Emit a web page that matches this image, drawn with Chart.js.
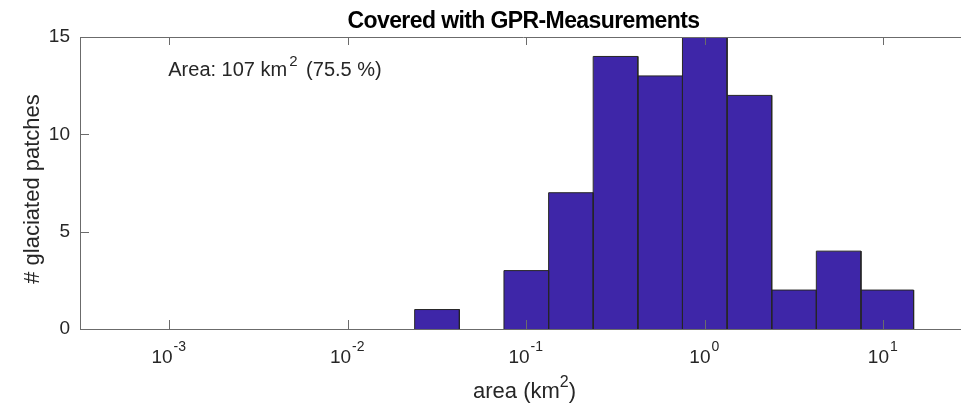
<!DOCTYPE html>
<html>
<head>
<meta charset="utf-8">
<script src="https://cdn.jsdelivr.net/npm/chart.js@4/dist/chart.umd.min.js"></script>
<style>
  html, body { margin: 0; padding: 0; background: #fff; overflow: hidden; }
  canvas { display: block; }
</style>
</head>
<body>
<canvas id="chart" width="967" height="407"></canvas>
<script>
// histogram bins (km²), log-spaced, last edge is the max patch
const binEdges = [0.0237, 0.0422, 0.0750, 0.1334, 0.2371, 0.4217, 0.7499, 1.3335, 2.3714, 4.2170, 7.4989, 14.79]
const patchCounts = [1, 0, 3, 7, 14, 13, 15, 12, 2, 4, 2]
const xTickExponents = [-3, -2, -1, 0, 1]
const yTicks = [0, 5, 10, 15]

const FONT = '"Liberation Sans", Arial, Helvetica, sans-serif'
const TEXT = '#262626'
const AXIS = '#6b6b6b'
const BAR_FILL = 'rgb(62, 38, 168)'
const BAR_EDGE = '#262626'

// one filled outline per bin, built from the edges and counts
const barSets = []
patchCounts.forEach((count, i) => {
  if (count === 0) return
  const l = binEdges[i]
  const r = binEdges[i + 1]
  barSets.push({
    data: [{ x: l, y: 0 }, { x: l, y: count }, { x: r, y: count }, { x: r, y: 0 }],
    backgroundColor: BAR_FILL,
    borderColor: BAR_EDGE,
    borderWidth: 1,
    fill: 'origin',
    pointRadius: 0,
    tension: 0
  })
})

// "10" with a raised exponent, centred on x
function powerLabel(ctx, x, baseline, exp, size) {
  const supSize = Math.round(size * 0.74)
  ctx.font = `${size}px ${FONT}`
  const wBase = ctx.measureText('10').width
  ctx.font = `${supSize}px ${FONT}`
  const wSup = ctx.measureText(String(exp)).width
  const start = x - (wBase + wSup) / 2 - 1
  ctx.textAlign = 'left'
  ctx.font = `${size}px ${FONT}`
  ctx.fillText('10', start, baseline)
  ctx.font = `${supSize}px ${FONT}`
  ctx.fillText(String(exp), start + wBase + 1, baseline - 12)
}

const decorations = {
  id: 'decorations',
  afterDraw(chart) {
    const ctx = chart.ctx
    const area = chart.chartArea
    const xs = chart.scales.x
    const ys = chart.scales.y
    ctx.save()

    // top box line + inward ticks
    ctx.strokeStyle = AXIS
    ctx.lineWidth = 1
    ctx.beginPath()
    ctx.moveTo(area.left, area.top + 0.5)
    ctx.lineTo(area.right, area.top + 0.5)
    xTickExponents.forEach(e => {
      const px = Math.round(xs.getPixelForValue(10 ** e)) + 0.5
      ctx.moveTo(px, area.bottom)
      ctx.lineTo(px, area.bottom - 9)
      ctx.moveTo(px, area.top)
      ctx.lineTo(px, area.top + 8)
    })
    yTicks.forEach(v => {
      const py = Math.round(ys.getPixelForValue(v)) + 0.5
      ctx.moveTo(area.left, py)
      ctx.lineTo(area.left + 9, py)
    })
    ctx.stroke()

    ctx.fillStyle = TEXT
    ctx.textBaseline = 'alphabetic'

    // x tick labels
    xTickExponents.forEach(e => {
      powerLabel(ctx, xs.getPixelForValue(10 ** e), area.bottom + 34, e, 19)
    })

    // title
    ctx.fillStyle = '#000'
    ctx.font = `bold 23px ${FONT}`
    ctx.letterSpacing = '-0.6px'
    ctx.textAlign = 'center'
    ctx.fillText('Covered with GPR-Measurements', (area.left + area.right) / 2, 28)
    ctx.letterSpacing = '0px'
    ctx.fillStyle = TEXT

    // area annotation
    let x = xs.getPixelForValue(10 ** -3) - 1
    const yA = area.top + 39
    ctx.textAlign = 'left'
    ctx.font = `20px ${FONT}`
    ctx.fillText('Area: 107 km', x, yA)
    x += ctx.measureText('Area: 107 km').width + 2
    ctx.font = `15px ${FONT}`
    ctx.fillText('2', x, yA - 10)
    x += ctx.measureText('2').width + 3
    ctx.font = `20px ${FONT}`
    ctx.fillText(' (75.5 %)', x, yA)

    // x axis label
    ctx.font = `22px ${FONT}`
    const part1 = 'area (km'
    const w1 = ctx.measureText(part1).width
    ctx.font = `16px ${FONT}`
    const wTwo = ctx.measureText('2').width
    let lx = 473
    const ly = area.bottom + 69
    ctx.font = `22px ${FONT}`
    ctx.fillText(part1, lx, ly)
    lx += w1
    ctx.font = `16px ${FONT}`
    ctx.fillText('2', lx, ly - 11)
    lx += wTwo
    ctx.font = `22px ${FONT}`
    ctx.fillText(')', lx, ly)

    // y axis label
    ctx.save()
    ctx.translate(33, (area.top + area.bottom) / 2 + 6)
    ctx.rotate(-Math.PI / 2)
    ctx.textAlign = 'center'
    ctx.textBaseline = 'middle'
    ctx.font = `22px ${FONT}`
    ctx.fillText('# glaciated patches', 0, 0)
    ctx.restore()

    ctx.restore()
  }
}

new Chart(document.getElementById('chart'), {
  type: 'line',
  data: { datasets: barSets },
  options: {
    responsive: false,
    animation: false,
    layout: { padding: { top: 37, right: 0, bottom: 0, left: 0 } },
    plugins: {
      legend: { display: false },
      tooltip: { enabled: false },
      title: { display: false }
    },
    scales: {
      x: {
        type: 'logarithmic',
        bounds: 'data',
        min: 10 ** -3.5,
        max: 10 ** 1.469,
        afterBuildTicks: scale => {
          scale.ticks = xTickExponents.map(e => ({ value: 10 ** e }))
        },
        afterFit: scale => { scale.height = 78 },
        ticks: { display: false },
        grid: { display: false, drawTicks: false },
        border: { display: true, color: AXIS, width: 1 }
      },
      y: {
        type: 'linear',
        min: 0,
        max: 15,
        afterBuildTicks: scale => {
          scale.ticks = yTicks.map(v => ({ value: v }))
        },
        afterFit: scale => { scale.width = 80 },
        ticks: {
          padding: 10,
          color: TEXT,
          font: { family: FONT, size: 19 }
        },
        grid: { display: false, drawTicks: false },
        border: { display: true, color: AXIS, width: 1 }
      }
    }
  },
  plugins: [decorations]
})
</script>
</body>
</html>
